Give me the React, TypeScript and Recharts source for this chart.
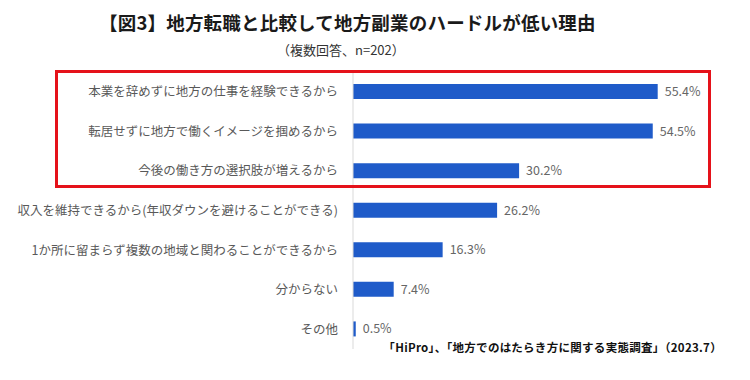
import { BarChart, Bar, XAxis, YAxis, LabelList } from "recharts";

// 回答項目
const reasons = [
  "本業を辞めずに地方の仕事を経験できるから",
  "転居せずに地方で働くイメージを掴めるから",
  "今後の働き方の選択肢が増えるから",
  "収入を維持できるから(年収ダウンを避けることができる)",
  "1か所に留まらず複数の地域と関わることができるから",
  "分からない",
  "その他",
];

// 割合 (%)
const shares = [55.4, 54.5, 30.2, 26.2, 16.3, 7.4, 0.5];

const data = reasons.map((name, i) => ({ name, value: shares[i] }));

const FONT = '"Noto Sans CJK JP", "Noto Sans", sans-serif';

const App = () => {
  return (
    <div
      style={{
        position: "relative",
        width: 750,
        height: 380,
        background: "#fff",
        fontFamily: FONT,
      }}
    >
      <style>{`body { margin: 0; }`}</style>

      {/* タイトル */}
      <div
        style={{
          position: "absolute",
          left: 99,
          top: 9,
          fontSize: 18.5,
          fontWeight: 700,
          color: "#1a1a1a",
          whiteSpace: "nowrap",
          lineHeight: "26px",
          letterSpacing: 0.2,
        }}
      >
        【図3】地方転職と比較して地方副業のハードルが低い理由
      </div>
      <div
        style={{
          position: "absolute",
          left: 277,
          top: 41,
          fontSize: 13,
          color: "#333",
          whiteSpace: "nowrap",
          lineHeight: "18px",
        }}
      >
        （複数回答、n=202）
      </div>

      <BarChart
        width={750}
        height={380}
        data={data}
        layout="vertical"
        margin={{ top: 72, right: 67, bottom: 31, left: 0 }}
        barSize={15}
      >
        <XAxis type="number" domain={[0, 60]} hide />
        <YAxis
          type="category"
          dataKey="name"
          width={353}
          axisLine={{ stroke: "#d9d9d9" }}
          tickLine={false}
          tickMargin={9}
          interval={0}
          tick={{ fill: "#595959", fontSize: 12.5, fontFamily: FONT }}
        />
        <Bar dataKey="value" fill="#1f5bc9" isAnimationActive={false}>
          <LabelList
            dataKey="value"
            position="right"
            offset={7}
            formatter={(v: any) => `${Number(v).toFixed(1)}%`}
            style={{ fill: "#666", fontSize: 12.5, fontFamily: FONT }}
          />
        </Bar>
      </BarChart>

      {/* 赤枠 */}
      <div
        style={{
          position: "absolute",
          left: 55,
          top: 70,
          width: 656,
          height: 118,
          boxSizing: "border-box",
          border: "3px solid #e5121a",
          pointerEvents: "none",
        }}
      />

      {/* 出典 */}
      <div
        style={{
          position: "absolute",
          right: 28,
          top: 339,
          fontSize: 11.5,
          fontWeight: 700,
          color: "#111",
          whiteSpace: "nowrap",
          lineHeight: "16px",
          letterSpacing: 0.3,
        }}
      >
        「HiPro」、「地方でのはたらき方に関する実態調査」（2023.7）
      </div>
    </div>
  );
};

export default App;
